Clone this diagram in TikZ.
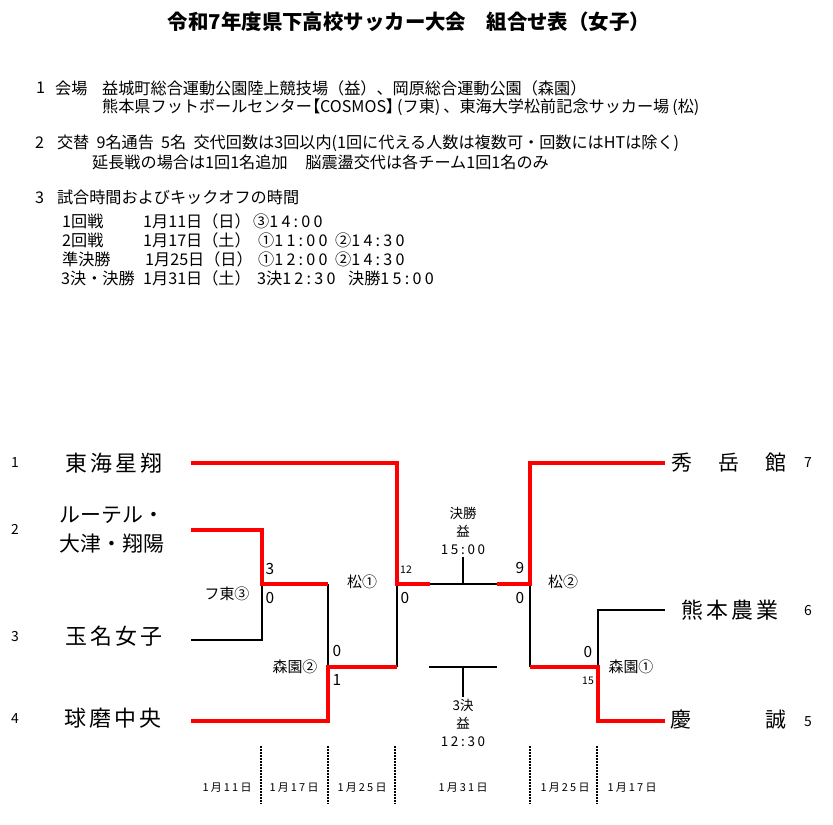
\documentclass[tikz,border=0pt]{standalone}
\usepackage{fontspec}
\setmainfont{Noto Sans CJK JP}
\newfontfamily\teamfont{Noto Sans CJK JP}[LetterSpace=14]
\newfontfamily\numfont{Noto Sans CJK JP}[LetterSpace=20]
\newcommand\gap{\hspace{0.8em}}
\newcommand\nm[1]{{\numfont #1}}
\newcommand\tight[1]{{\addfontfeature{RawFeature=+palt}#1}}
\usetikzlibrary{positioning}
\tikzset{
  win/.style={draw=red, line width=3.5bp},
  lose/.style={draw=black, line width=1.6bp},
  team/.style={font=\fontsize{21}{30}\selectfont, inner sep=0pt},
  wide/.style={font=\teamfont\fontsize{22}{30}\selectfont, inner sep=0pt},
  seed/.style={font=\fontsize{14}{16}\selectfont, inner sep=0pt},
  score/.style={font=\fontsize{15.5}{17}\selectfont, inner sep=0pt},
  small/.style={font=\fontsize{10.5}{12}\selectfont, inner sep=0pt},
  venue/.style={font=\fontsize{15}{18}\selectfont, inner sep=0pt},
  info/.style={anchor=west, font=\fontsize{16.2}{18}\selectfont, inner sep=0pt},
  day/.style={font=\numfont\fontsize{11}{12}\selectfont, inner sep=0pt},
  sep/.style={line width=1.5bp, dash pattern=on 1.5bp off 1.5bp},
}
\begin{document}
\begin{tikzpicture}[x=1bp, y=-1bp]
\useasboundingbox (0,0) rectangle (833,825);
% title and notes
\node[font=\fontsize{20.5}{24}\selectfont\bfseries, inner sep=0pt] (title) at (409,22)
  {令和7年度県下高校サッカー大会\hspace{1em}組合せ表（女子）};
\node[info] (n1) at (36,88) {1};
\node[info] (n1v) at (55,88) {会場};
\node[info] (n1a) at (102,88) {益城町総合運動公園陸上競技場（益）、岡原総合運動公園（森園）};
\node[info] (n1b) at (102,107) {熊本県フットボールセンター\tight{【}COSMOS\tight{】}\hspace{3bp}(フ東)\hspace{3bp}、東海大学松前記念サッカー場\hspace{3bp}(松)};
\node[info] (n2) at (35,143) {2\gap 交替\hspace{0.45em}9名通告\hspace{0.45em}5名\hspace{0.45em}交代回数は3回以内(1回に代える人数は複数可・回数にはHTは除く)};
\node[info] (n2a) at (92,162) {延長戦の場合は\nm{1}回\nm{1}名追加\hspace{1.1em}脳震盪交代は各チーム\nm{1}回\nm{1}名のみ};
\node[info] (n3) at (35,197) {3\gap 試合時間およびキックオフの時間};
\node[info] (k1) at (62,221) {1回戦};
\node[info] (k1d) at (143,221) {1月11日（日）};
\node[info] (k1a) at (253,221) {③\nm{14:00}};
\node[info] (k2) at (62,240) {2回戦};
\node[info] (k2d) at (143,240) {1月17日（土）};
\node[info] (k2a) at (258,240) {①\nm{11:00}};
\node[info] (k2b) at (335,240) {②\nm{14:30}};
\node[info] (k3) at (62,259) {準決勝};
\node[info] (k3d) at (145,259) {1月25日（日）};
\node[info] (k3a) at (258,259) {①\nm{12:00}};
\node[info] (k3b) at (335,259) {②\nm{14:30}};
\node[info] (k4) at (61,278) {3決・決勝};
\node[info] (k4d) at (143,278) {1月31日（土）};
\node[info] (k4a) at (257,278) {3決\nm{12:30}};
\node[info] (k4b) at (348,278) {決勝\nm{15:00}};
% teams
\node[seed] (s1) at (15,463) {1};
\node[seed] (s2) at (15,529) {2};
\node[seed] (s3) at (15,637) {3};
\node[seed] (s4) at (15,719) {4};
\node[wide] (t1) at (114,463) {東海星翔};
\node[team, align=center] (t2) at (112,530) {ルーテル・\\大津・翔陽};
\node[wide] (t3) at (114,636) {玉名女子};
\node[wide] (t4) at (113,718) {球磨中央};
\node[team, anchor=west] (t7) at (671,463) {秀\hspace{26bp}岳\hspace{26bp}館};
\node[wide, anchor=west] (t6) at (681,610) {熊本農業};
\node[team, anchor=west] (t5) at (670,720) {慶\hspace{74bp}誠};
\node[seed] (s7) at (808,463) {7};
\node[seed] (s6) at (808,611) {6};
\node[seed] (s5) at (808,722) {5};
% bracket points
\coordinate (a1) at (191,463);
\coordinate (a2) at (191,530);
\coordinate (a3) at (191,640);
\coordinate (a4) at (191,721);
\coordinate (m23) at (262,584);
\coordinate (m24) at (328,584);
\coordinate (m4) at (328,667);
\coordinate (sf1) at (397,584);
\coordinate (sf1b) at (397,667);
\coordinate (fl) at (430,584);
\coordinate (fr) at (497,584);
\coordinate (sf2) at (530,584);
\coordinate (sf2b) at (530,667);
\coordinate (q56) at (598,667);
\coordinate (b7) at (665,463);
\coordinate (b6) at (665,610);
\coordinate (b5) at (665,721);
\coordinate (ft) at (463,584);
\coordinate (ftop) at (463,557);
\coordinate (tl) at (429,667);
\coordinate (tr) at (497,667);
\coordinate (tt) at (463,667);
\coordinate (tbot) at (463,697);
% left half
\draw[lose] (a3) -| (m23);
\draw[lose] (m24) -- (m4);
\draw[lose] (sf1b) -- (sf1);
\draw[win] (a1) -| (sf1) -- (fl);
\draw[win] (a2) -| (m23) -- (m24);
\draw[win] (a4) -| (m4) -- (sf1b);
% right half
\draw[lose] (b6) -| (q56);
\draw[lose] (sf2) -- (sf2b);
\draw[win] (b7) -| (sf2) -- (fr);
\draw[win] (b5) -| (q56) -- (sf2b);
% final and 3rd place
\draw[lose] (fl) -- (fr);
\draw[lose] (ft) -- (ftop);
\draw[lose] (tl) -- (tr);
\draw[lose] (tt) -- (tbot);
% scores and venues
\node[score] (r1a) at (270,569) {3};
\node[score] (r1b) at (270,598) {0};
\node[venue] (v1) at (227,594) {フ東③};
\node[score] (r2a) at (337,651) {0};
\node[score] (r2b) at (337,680) {1};
\node[venue] (v2) at (295,667) {森園②};
\node[venue] (v3) at (362,582) {松①};
\node[small] (r3a) at (406,570) {12};
\node[score] (r3b) at (405,598) {0};
\node[score] (r4a) at (520,568) {9};
\node[score] (r4b) at (520,598) {0};
\node[venue] (v4) at (563,582) {松②};
\node[score] (r5a) at (588,652) {0};
\node[small] (r5b) at (588,681) {15};
\node[venue] (v5) at (631,667) {森園①};
\node[venue, font=\fontsize{13.5}{18}\selectfont, align=center] (fin) at (463,531) {決勝\\益\\\nm{15:00}};
\node[venue, font=\fontsize{13.5}{18}\selectfont, align=center] (thd) at (463,723) {3決\\益\\\nm{12:30}};
% dates
\foreach \x [count=\i] in {261,328,395,530,597}
  \draw[sep] (\x,746) coordinate (p\i) -- (\x,804) coordinate (q\i);
\node[day] (d1) at (227,788) {1月11日};
\node[day] (d2) at (294,788) {1月17日};
\node[day] (d3) at (362,788) {1月25日};
\node[day] (d4) at (463,788) {1月31日};
\node[day] (d5) at (565,788) {1月25日};
\node[day] (d6) at (632,788) {1月17日};
\end{tikzpicture}
\end{document}
